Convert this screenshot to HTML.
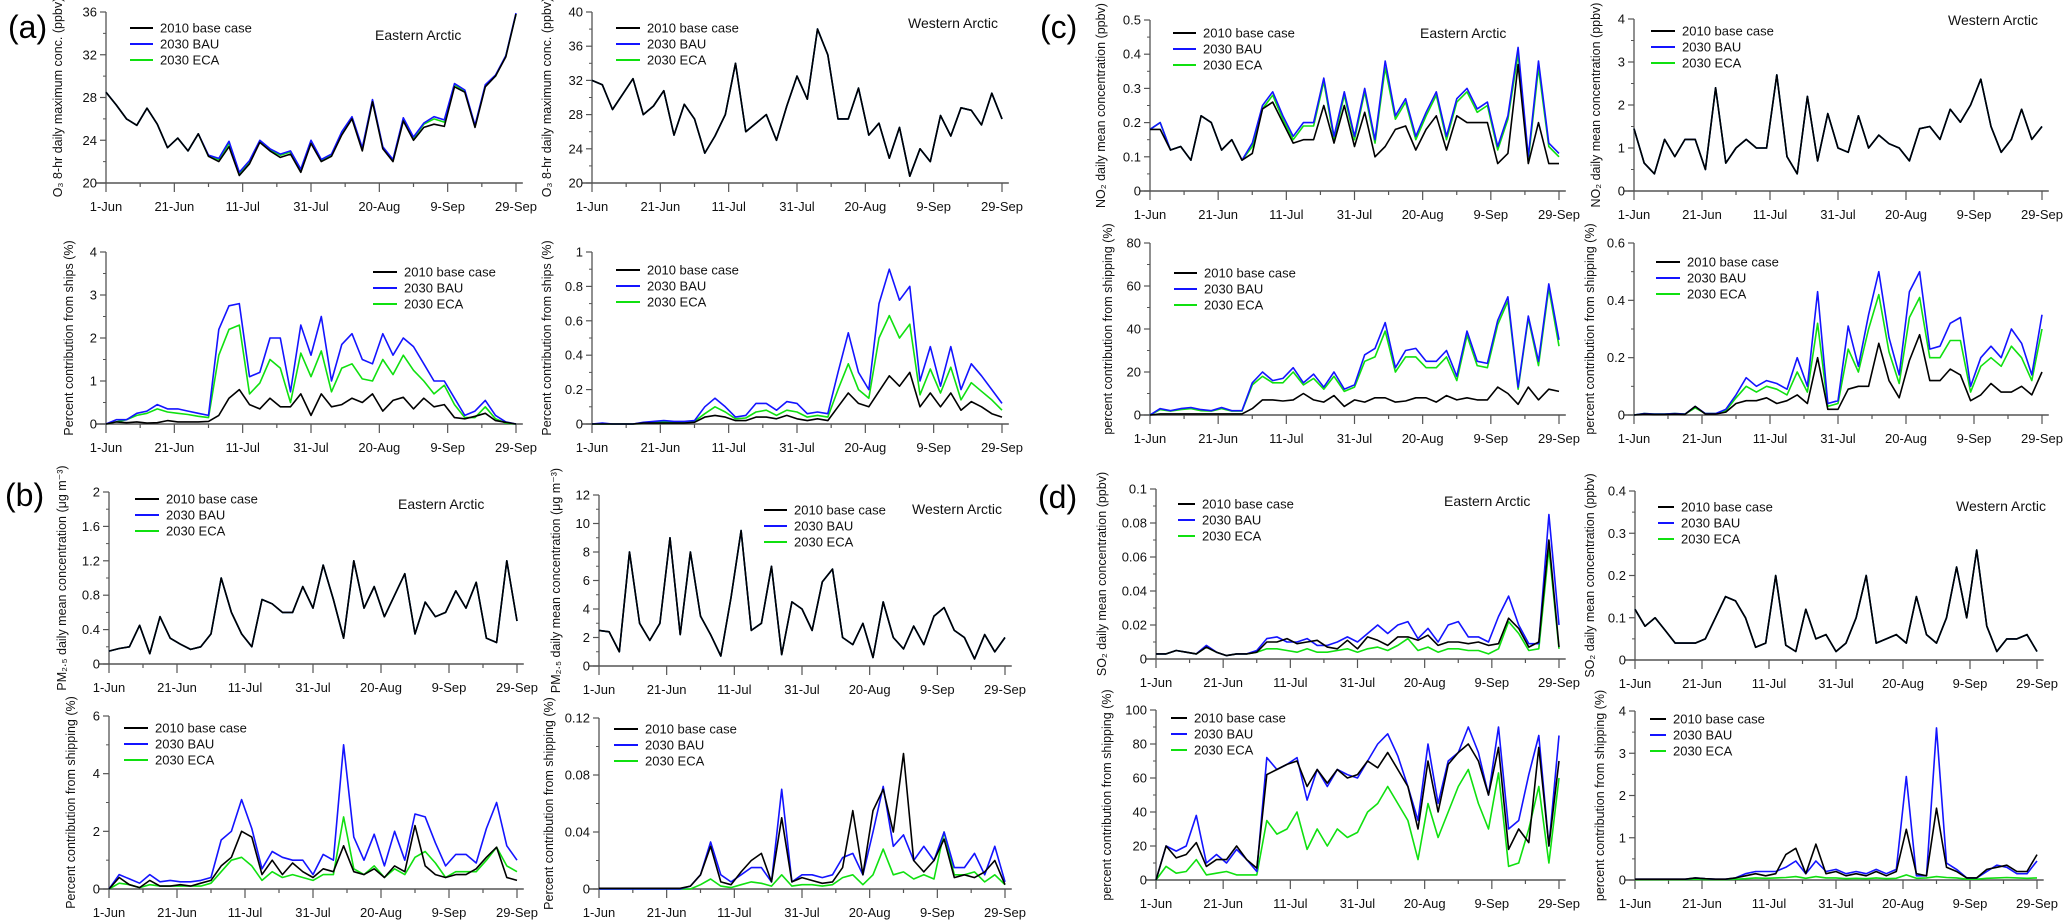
<!DOCTYPE html>
<html><head><meta charset="utf-8">
<style>
html,body{margin:0;padding:0;background:#fff;}
svg{display:block;font-family:"Liberation Sans",Arial,sans-serif;}
</style></head>
<body>
<svg id="fig" width="2067" height="923" viewBox="0 0 2067 923" xmlns="http://www.w3.org/2000/svg">
<text x="8" y="38" font-size="32">(a)</text>
<text x="5" y="506" font-size="32">(b)</text>
<text x="1040" y="38" font-size="32">(c)</text>
<text x="1038" y="508" font-size="32">(d)</text>
</svg>
<script>
const days = [0,3,6,9,12,15,18,21,24,27,30,33,36,39,42,45,48,51,54,57,60,63,66,69,72,75,78,81,84,87,90,93,96,99,102,105,108,111,114,117,120];
const xTickLabels = ["1-Jun","21-Jun","11-Jul","31-Jul","20-Aug","9-Sep","29-Sep"];
const xTickDays = [0,20,40,60,80,100,120];

const a1Base = [28.5,27.3,26.0,25.4,27.0,25.5,23.3,24.2,23.0,24.6,22.5,22.0,23.4,20.7,21.8,23.8,23.0,22.4,22.7,21.0,23.7,22.0,22.5,24.5,26.0,23.0,27.6,23.2,22.0,25.8,24.0,25.2,25.5,25.3,29.0,28.5,25.2,29.0,30.0,31.8,35.8];
const a1Bau = [28.5,27.3,26.0,25.4,27.0,25.5,23.3,24.2,23.0,24.6,22.6,22.3,23.9,21.0,22.1,24.0,23.2,22.7,23.0,21.3,24.0,22.2,22.7,24.8,26.2,23.3,27.8,23.4,22.2,26.1,24.3,25.6,26.2,25.9,29.3,28.7,25.4,29.2,30.1,31.9,35.9];
const a1Eca = [28.5,27.3,26.0,25.4,27.0,25.5,23.3,24.2,23.0,24.6,22.5,22.2,23.7,20.9,22.0,23.9,23.1,22.6,22.9,21.2,23.9,22.1,22.6,24.7,26.1,23.2,27.7,23.3,22.1,26.0,24.2,25.5,26.0,25.7,29.2,28.6,25.3,29.1,30.0,31.9,35.8];
const a2Base = [32.0,31.5,28.6,30.4,32.2,28.0,29.0,30.8,25.6,29.2,27.5,23.5,25.5,28.0,34.0,26.0,27.0,28.0,25.0,29.0,32.5,29.8,38.0,35.0,27.5,27.5,31.1,25.6,27.0,22.9,26.5,20.8,24.0,22.5,27.9,25.5,28.8,28.5,26.8,30.5,27.5];
const a2Bau = a2Base.slice();
const a2Eca = a2Base.slice();
const a3Base = [0,0.05,0.03,0.05,0.02,0.03,0.08,0.05,0.05,0.05,0.06,0.2,0.6,0.8,0.45,0.35,0.6,0.4,0.4,0.7,0.2,0.7,0.4,0.45,0.6,0.5,0.7,0.3,0.55,0.62,0.35,0.6,0.4,0.45,0.15,0.12,0.18,0.25,0.08,0.04,0];
const a3Bau = [0,0.1,0.1,0.25,0.3,0.45,0.35,0.35,0.3,0.25,0.2,2.2,2.75,2.8,1.1,1.2,2.0,2.0,0.75,2.3,1.6,2.5,1.0,1.85,2.1,1.5,1.4,2.1,1.6,2.0,1.8,1.4,1.0,1.0,0.6,0.2,0.3,0.55,0.2,0.05,0];
const a3Eca = [0,0.05,0.1,0.2,0.25,0.35,0.28,0.25,0.22,0.18,0.15,1.6,2.2,2.3,0.7,0.95,1.5,1.3,0.5,1.65,1.1,1.7,0.75,1.3,1.4,1.05,1.0,1.5,1.15,1.6,1.25,1.0,0.7,0.9,0.45,0.15,0.15,0.4,0.12,0.02,0];
const a4Base = [0,0,0,0,0,0.005,0.005,0.005,0.005,0.005,0.01,0.04,0.05,0.04,0.02,0.02,0.04,0.04,0.03,0.05,0.03,0.02,0.03,0.02,0.1,0.18,0.12,0.1,0.19,0.28,0.22,0.3,0.1,0.18,0.1,0.18,0.08,0.13,0.1,0.06,0.04];
const a4Bau = [0,0.005,0,0,0,0.01,0.015,0.02,0.015,0.015,0.02,0.1,0.15,0.1,0.04,0.05,0.12,0.12,0.08,0.13,0.12,0.06,0.07,0.06,0.3,0.53,0.3,0.2,0.7,0.9,0.72,0.8,0.25,0.45,0.22,0.45,0.2,0.35,0.28,0.2,0.12];
const a4Eca = [0,0,0,0,0,0.005,0.01,0.01,0.01,0.01,0.015,0.06,0.1,0.07,0.03,0.035,0.07,0.08,0.05,0.08,0.07,0.04,0.05,0.04,0.2,0.35,0.2,0.15,0.5,0.63,0.5,0.58,0.17,0.32,0.18,0.33,0.14,0.24,0.19,0.14,0.08];
const b1Base = [0.15,0.18,0.2,0.45,0.12,0.55,0.3,0.23,0.17,0.2,0.35,1.0,0.6,0.35,0.2,0.75,0.7,0.6,0.6,0.9,0.65,1.15,0.75,0.3,1.2,0.65,0.9,0.55,0.8,1.05,0.35,0.72,0.55,0.6,0.85,0.65,0.95,0.3,0.25,1.2,0.5];
const b1Bau = b1Base.slice();
const b1Eca = b1Base.slice();
const b2Base = [2.5,2.4,1.0,8.0,3.0,1.8,3.0,9.0,2.2,8.0,3.5,2.2,0.7,4.8,9.5,2.5,3.0,7.0,0.8,4.5,4.0,2.5,5.9,6.8,2.0,1.5,3.0,0.6,4.5,2.0,1.2,2.8,1.5,3.5,4.1,2.5,2.0,0.5,2.2,1.0,2.0];
const b2Bau = b2Base.slice();
const b2Eca = b2Base.slice();
const b3Base = [0,0.4,0.15,0.05,0.3,0.1,0.1,0.15,0.1,0.2,0.3,0.8,1.1,2.0,1.8,0.5,1.0,0.5,0.9,0.6,0.4,0.7,0.6,1.5,0.6,0.5,0.7,0.4,0.8,0.6,2.2,0.8,0.5,0.4,0.5,0.5,0.7,1.1,1.45,0.4,0.3];
const b3Bau = [0,0.5,0.35,0.2,0.5,0.25,0.3,0.25,0.25,0.3,0.4,1.7,2.0,3.1,2.1,0.7,1.3,1.1,1.0,1.0,0.5,1.2,1.0,5.0,1.8,1.0,1.9,0.8,2.0,1.0,2.6,2.5,1.6,0.8,1.2,1.2,0.9,2.1,3.0,1.5,1.0];
const b3Eca = [0,0.2,0.15,0.05,0.15,0.1,0.1,0.1,0.1,0.1,0.2,0.6,1.0,1.1,0.8,0.3,0.6,0.4,0.5,0.4,0.3,0.5,0.5,2.5,0.7,0.5,0.8,0.4,0.7,0.5,1.1,1.3,0.9,0.4,0.6,0.6,0.6,1.0,1.45,0.8,0.6];
const b4Base = [0.0005,0.0005,0.0005,0.0005,0.0005,0.0005,0.0005,0.0005,0.0005,0.002,0.01,0.03,0.005,0.003,0.012,0.02,0.025,0.005,0.05,0.005,0.008,0.006,0.004,0.005,0.015,0.055,0.01,0.055,0.07,0.04,0.095,0.02,0.012,0.02,0.035,0.008,0.01,0.008,0.012,0.02,0.003];
const b4Bau = [0,0,0,0,0,0,0,0,0,0.002,0.01,0.033,0.01,0.005,0.01,0.015,0.015,0.005,0.07,0.005,0.01,0.01,0.008,0.01,0.022,0.025,0.01,0.04,0.072,0.03,0.038,0.02,0.03,0.02,0.04,0.015,0.015,0.025,0.01,0.03,0.005];
const b4Eca = [0,0,0,0,0,0,0,0,0,0,0.003,0.007,0.002,0.001,0.003,0.005,0.004,0.002,0.01,0.002,0.003,0.003,0.002,0.003,0.008,0.01,0.003,0.01,0.028,0.01,0.012,0.007,0.01,0.007,0.04,0.01,0.01,0.012,0.005,0.01,0.003];
const c1Base = [0.18,0.18,0.12,0.13,0.09,0.22,0.2,0.12,0.15,0.09,0.11,0.24,0.26,0.2,0.14,0.15,0.15,0.25,0.14,0.25,0.13,0.23,0.1,0.13,0.18,0.19,0.12,0.18,0.22,0.12,0.22,0.2,0.2,0.2,0.08,0.11,0.37,0.08,0.2,0.08,0.08];
const c1Bau = [0.18,0.2,0.12,0.13,0.09,0.22,0.2,0.12,0.15,0.09,0.14,0.25,0.29,0.22,0.16,0.2,0.2,0.33,0.16,0.29,0.16,0.3,0.15,0.38,0.22,0.27,0.16,0.23,0.29,0.16,0.27,0.3,0.24,0.26,0.13,0.22,0.42,0.1,0.38,0.14,0.11];
const c1Eca = [0.18,0.2,0.12,0.13,0.09,0.22,0.2,0.12,0.15,0.09,0.13,0.24,0.28,0.21,0.15,0.19,0.19,0.32,0.15,0.28,0.15,0.29,0.14,0.36,0.21,0.26,0.15,0.22,0.28,0.15,0.26,0.29,0.23,0.25,0.12,0.21,0.4,0.09,0.36,0.13,0.1];
const c2Base = [1.45,0.65,0.4,1.2,0.8,1.2,1.2,0.5,2.4,0.65,1.0,1.2,1.0,1.0,2.7,0.8,0.4,2.2,0.7,1.8,1.0,0.9,1.75,1.0,1.3,1.1,1.0,0.7,1.45,1.5,1.2,1.9,1.6,2.0,2.6,1.5,0.9,1.2,1.9,1.2,1.5];
const c2Bau = c2Base.slice();
const c2Eca = c2Base.slice();
const c3Base = [0,0.5,0.5,0.5,0.5,0.5,0.5,0.5,0.5,0.5,3,7,7,6.5,7,10,7,6,9,4,7,6,8,8,6,6.5,8,8,6,9,7,8,7,7,13,10,5,13,7,12,11];
const c3Bau = [0,3,2,3,3.5,2.5,2,3.5,2,2,15,20,16,17,22,15,19,13,20,12,14,28,31,43,22,30,31,25,25,30,18,39,25,24,44,55,13,46,25,61,35];
const c3Eca = [0,2.5,1.8,2.5,3,2,1.8,3,1.8,1.8,14,18,15,15,20,14,17,12,18,11,13,25,27,39,20,27,27,22,22,27,16,37,23,22,42,53,12,45,23,59,32];
const c4Base = [0,0.003,0.002,0.002,0.003,0.002,0.03,0.003,0.003,0.01,0.04,0.05,0.05,0.06,0.04,0.05,0.07,0.04,0.2,0.02,0.02,0.09,0.1,0.1,0.25,0.12,0.06,0.19,0.28,0.12,0.12,0.16,0.14,0.05,0.07,0.11,0.08,0.08,0.1,0.07,0.15];
const c4Bau = [0,0.005,0.003,0.003,0.005,0.003,0.03,0.005,0.005,0.02,0.07,0.13,0.1,0.12,0.11,0.09,0.2,0.1,0.43,0.04,0.05,0.31,0.17,0.35,0.5,0.27,0.14,0.43,0.5,0.23,0.24,0.32,0.34,0.1,0.2,0.24,0.2,0.3,0.25,0.14,0.35];
const c4Eca = [0,0.005,0.003,0.003,0.005,0.003,0.025,0.005,0.005,0.015,0.06,0.1,0.08,0.1,0.09,0.07,0.15,0.08,0.32,0.03,0.04,0.23,0.15,0.3,0.42,0.22,0.11,0.34,0.41,0.2,0.2,0.26,0.26,0.08,0.17,0.2,0.17,0.24,0.2,0.12,0.3];
const d1Base = [0.003,0.003,0.005,0.004,0.003,0.007,0.004,0.002,0.003,0.003,0.004,0.01,0.01,0.012,0.009,0.01,0.011,0.007,0.006,0.011,0.006,0.013,0.011,0.008,0.013,0.013,0.011,0.014,0.008,0.01,0.01,0.009,0.01,0.008,0.009,0.024,0.018,0.007,0.01,0.07,0.007];
const d1Bau = [0.003,0.003,0.005,0.004,0.003,0.008,0.004,0.002,0.003,0.003,0.005,0.012,0.013,0.01,0.01,0.012,0.008,0.008,0.01,0.013,0.01,0.015,0.02,0.015,0.02,0.022,0.012,0.018,0.01,0.02,0.022,0.013,0.013,0.01,0.025,0.037,0.02,0.009,0.009,0.085,0.02];
const d1Eca = [0.003,0.003,0.005,0.004,0.003,0.007,0.004,0.002,0.003,0.003,0.004,0.006,0.006,0.005,0.004,0.006,0.004,0.004,0.005,0.006,0.004,0.006,0.007,0.005,0.008,0.012,0.005,0.007,0.004,0.006,0.006,0.005,0.005,0.003,0.006,0.022,0.015,0.005,0.006,0.065,0.006];
const d2Base = [0.12,0.08,0.1,0.07,0.04,0.04,0.04,0.05,0.1,0.15,0.14,0.1,0.03,0.04,0.2,0.035,0.02,0.12,0.05,0.06,0.02,0.04,0.1,0.2,0.04,0.05,0.06,0.04,0.15,0.06,0.04,0.1,0.22,0.1,0.26,0.08,0.02,0.05,0.05,0.06,0.02];
const d2Bau = d2Base.slice();
const d2Eca = d2Base.slice();
const d3Base = [0,20,13,15,22,8,12,12,20,12,7,62,65,68,70,55,65,57,65,60,62,70,66,75,65,55,30,70,40,68,75,80,70,50,78,18,30,22,78,20,70];
const d3Bau = [0,20,17,20,38,10,15,10,18,12,5,72,65,68,72,47,65,55,65,62,60,70,80,86,73,55,35,80,45,70,75,90,75,50,90,30,35,62,85,20,85];
const d3Eca = [0,8,4,5,12,3,4,5,3,3,3,35,27,30,40,18,30,20,30,25,28,40,45,55,45,35,12,45,25,40,55,65,45,30,63,8,10,30,55,10,60];
const d4Base = [0.02,0.02,0.02,0.02,0.02,0.02,0.05,0.03,0.02,0.02,0.05,0.1,0.15,0.1,0.15,0.6,0.75,0.15,0.85,0.15,0.2,0.1,0.15,0.1,0.2,0.1,0.2,1.2,0.15,0.1,1.7,0.3,0.2,0.05,0.05,0.25,0.3,0.35,0.2,0.2,0.6];
const d4Bau = [0.02,0.02,0.02,0.02,0.02,0.02,0.05,0.03,0.02,0.02,0.05,0.15,0.2,0.2,0.2,0.3,0.45,0.15,0.45,0.2,0.25,0.15,0.2,0.15,0.25,0.15,0.25,2.45,0.1,0.1,3.6,0.4,0.25,0.05,0.05,0.2,0.35,0.3,0.15,0.15,0.45];
const d4Eca = [0.01,0.01,0.01,0.01,0.01,0.01,0.02,0.01,0.01,0.01,0.02,0.03,0.05,0.04,0.05,0.06,0.08,0.04,0.08,0.05,0.05,0.03,0.04,0.03,0.05,0.03,0.04,0.12,0.04,0.05,0.08,0.06,0.05,0.02,0.02,0.04,0.05,0.06,0.05,0.04,0.05];

const a1Ticks = ["20","24","28","32","36"];
const a2Ticks = ["20","24","28","32","36","40"];
const a3Ticks = ["0","1","2","3","4"];
const a4Ticks = ["0","0.2","0.4","0.6","0.8","1"];
const b1Ticks = ["0","0.4","0.8","1.2","1.6","2"];
const b2Ticks = ["0","2","4","6","8","10","12"];
const b3Ticks = ["0","2","4","6"];
const b4Ticks = ["0","0.04","0.08","0.12"];
const c1Ticks = ["0","0.1","0.2","0.3","0.4","0.5"];
const c2Ticks = ["0","1","2","3","4"];
const c3Ticks = ["0","20","40","60","80"];
const c4Ticks = ["0","0.2","0.4","0.6"];
const d1Ticks = ["0","0.02","0.04","0.06","0.08","0.1"];
const d2Ticks = ["0","0.1","0.2","0.3","0.4"];
const d3Ticks = ["0","20","40","60","80","100"];
const d4Ticks = ["0","1","2","3","4"];

const NS = "http://www.w3.org/2000/svg";
const svg = document.getElementById("fig");
function mk(tag, attrs, parent){
  const e = document.createElementNS(NS, tag);
  for (const k in attrs) e.setAttribute(k, attrs[k]);
  (parent||svg).appendChild(e);
  return e;
}

const panels = [
 {id:"a1",x0:106,x1:516,yT:12,yB:183,ticks:a1Ticks,base:a1Base,bau:a1Bau,eca:a1Eca,title:"O\u2083 8-hr daily maximum conc. (ppbv)",tx:62,lg:[130,28,160],region:["Eastern Arctic",375,40]},
 {id:"a2",x0:592,x1:1002,yT:12,yB:183,ticks:a2Ticks,base:a2Base,bau:a2Bau,eca:a2Eca,title:"O\u2083 8-hr daily maximum conc. (ppbv)",tx:551,lg:[616,28,647],region:["Western Arctic",908,28]},
 {id:"a3",x0:106,x1:516,yT:252,yB:424,ticks:a3Ticks,base:a3Base,bau:a3Bau,eca:a3Eca,title:"Percent contribution from ships (%)",tx:73,lg:[373,272,404]},
 {id:"a4",x0:592,x1:1002,yT:252,yB:424,ticks:a4Ticks,base:a4Base,bau:a4Bau,eca:a4Eca,title:"Percent contribution from ships (%)",tx:551,lg:[616,270,647]},
 {id:"b1",x0:109,x1:517,yT:492,yB:664,ticks:b1Ticks,base:b1Base,bau:b1Bau,eca:b1Eca,title:"PM\u2082.\u2085 daily mean concentration (\u03bcg m\u207b\u00b3)",tx:66,lg:[135,499,166],region:["Eastern Arctic",398,509]},
 {id:"b2",x0:599,x1:1005,yT:495,yB:666,ticks:b2Ticks,base:b2Base,bau:b2Bau,eca:b2Eca,title:"PM\u2082.\u2085 daily mean concentration (\u03bcg m\u207b\u00b3)",tx:560,lg:[764,510,794],region:["Western Arctic",912,514]},
 {id:"b3",x0:109,x1:517,yT:716,yB:889,ticks:b3Ticks,base:b3Base,bau:b3Bau,eca:b3Eca,title:"Percent contribution from shipping (%)",tx:75,lg:[124,728,155]},
 {id:"b4",x0:599,x1:1005,yT:718,yB:889,ticks:b4Ticks,base:b4Base,bau:b4Bau,eca:b4Eca,title:"Percent contribution from shipping (%)",tx:553,lg:[614,729,645]},
 {id:"c1",x0:1150,x1:1559,yT:20,yB:191,ticks:c1Ticks,base:c1Base,bau:c1Bau,eca:c1Eca,title:"NO\u2082 daily mean concentration (ppbv)",tx:1105,lg:[1173,33,1203],region:["Eastern Arctic",1420,38]},
 {id:"c2",x0:1634,x1:2042,yT:19,yB:191,ticks:c2Ticks,base:c2Base,bau:c2Bau,eca:c2Eca,title:"NO\u2082 daily mean concentration (ppbv)",tx:1600,lg:[1651,31,1682],region:["Western Arctic",1948,25]},
 {id:"c3",x0:1150,x1:1559,yT:243,yB:415,ticks:c3Ticks,base:c3Base,bau:c3Bau,eca:c3Eca,title:"percent contribution from shipping (%)",tx:1112,lg:[1174,273,1204]},
 {id:"c4",x0:1634,x1:2042,yT:243,yB:415,ticks:c4Ticks,base:c4Base,bau:c4Bau,eca:c4Eca,title:"percent contribution from shipping (%)",tx:1594,lg:[1656,262,1687]},
 {id:"d1",x0:1156,x1:1559,yT:489,yB:659,ticks:d1Ticks,base:d1Base,bau:d1Bau,eca:d1Eca,title:"SO\u2082 daily mean concentration (ppbv)",tx:1106,lg:[1178,504,1202],region:["Eastern Arctic",1444,506]},
 {id:"d2",x0:1635,x1:2037,yT:491,yB:660,ticks:d2Ticks,base:d2Base,bau:d2Bau,eca:d2Eca,title:"SO\u2082 daily mean concentration (ppbv)",tx:1594,lg:[1658,507,1681],region:["Western Arctic",1956,511]},
 {id:"d3",x0:1156,x1:1559,yT:710,yB:880,ticks:d3Ticks,base:d3Base,bau:d3Bau,eca:d3Eca,title:"percent contribution from shipping (%)",tx:1111,lg:[1171,718,1194]},
 {id:"d4",x0:1635,x1:2037,yT:711,yB:880,ticks:d4Ticks,base:d4Base,bau:d4Bau,eca:d4Eca,title:"percent contribution from shipping (%)",tx:1604,lg:[1650,719,1673]}
];

const seriesNames = ["2010 base case","2030 BAU","2030 ECA"];
const seriesColors = ["#000000","#1414ff","#10e010"];

panels.forEach(p => {
  const g = mk("g", {});
  
  
  const yMin = parseFloat(p.ticks[0]);
  const yMax = parseFloat(p.ticks[p.ticks.length-1]);
  const xs = d => p.x0 + d/120*(p.x1 - p.x0);
  const ys = v => p.yB - (v - yMin)/(yMax - yMin)*(p.yB - p.yT);
  const xEnd = xs(122);
  const xa = mk("line", {x1:p.x0-10, y1:p.yB, x2:xEnd, y2:p.yB, stroke:"#555", "stroke-width":1.6}, g);
  
  
  const ya = mk("line", {x1:p.x0, y1:p.yB, x2:p.x0, y2:p.yT, stroke:"#555", "stroke-width":1.3}, g);
  
  
  for (let d = 0; d <= 120; d += 10) {
    const major = d % 20 === 0;
    mk("line", {x1:xs(d), y1:p.yB, x2:xs(d), y2:p.yB + (major?9:4), stroke:"#555", "stroke-width":1.2}, g);
  }
  xTickDays.forEach((d,i) => {
    const t = mk("text", {x:xs(d), y:p.yB+28, "font-size":13, "text-anchor":"middle", fill:"#111"}, g);
    t.textContent = xTickLabels[i];
    
    
  });
  const n = p.ticks.length;
  p.ticks.forEach((lab,i) => {
    const v = parseFloat(lab);
    const y = ys(v);
    mk("line", {x1:p.x0-6, y1:y, x2:p.x0, y2:y, stroke:"#555", "stroke-width":1.2}, g);
    if (i < n-1) {
      const ym = ys((v + parseFloat(p.ticks[i+1]))/2);
      mk("line", {x1:p.x0-3, y1:ym, x2:p.x0, y2:ym, stroke:"#555", "stroke-width":1}, g);
    }
    const t = mk("text", {x:p.x0-9, y:y+4.5, "font-size":13, "text-anchor":"end", fill:"#111"}, g);
    t.textContent = lab;
    
    
  });
  const yc = (p.yT + p.yB)/2;
  const tt = mk("text", {x:p.tx, y:yc, "font-size":12.5, "text-anchor":"middle", transform:`rotate(-90 ${p.tx} ${yc})`, fill:"#111"}, g);
  tt.textContent = p.title;
  
  
  const order = [[p.eca,2],[p.bau,1],[p.base,0]];
  order.forEach(([arr,k]) => {
    const pts = days.map((d,i) => xs(d).toFixed(1) + "," + ys(arr[i]).toFixed(1)).join(" ");
    const pl = mk("polyline", {points:pts, fill:"none", stroke:seriesColors[k], "stroke-width":1.6, "stroke-linejoin":"round"}, g);
    
    
  });
  const lg = mk("g", {}, g);
  
  
  seriesNames.forEach((nm,k) => {
    const y = p.lg[1] + k*16;
    const ln = mk("line", {x1:p.lg[0], y1:y, x2:p.lg[2]-7, y2:y, stroke:seriesColors[k], "stroke-width":2}, lg);
    
    
    const t = mk("text", {x:p.lg[2], y:y+4.5, "font-size":13, fill:"#111"}, lg);
    t.textContent = nm;
    
    
  });
  if (p.region) {
    const r = mk("text", {x:p.region[1], y:p.region[2], "font-size":14, "text-anchor":"start", fill:"#111"}, g);
    r.textContent = p.region[0];
    
    
  }
});
</script>
</body></html>
